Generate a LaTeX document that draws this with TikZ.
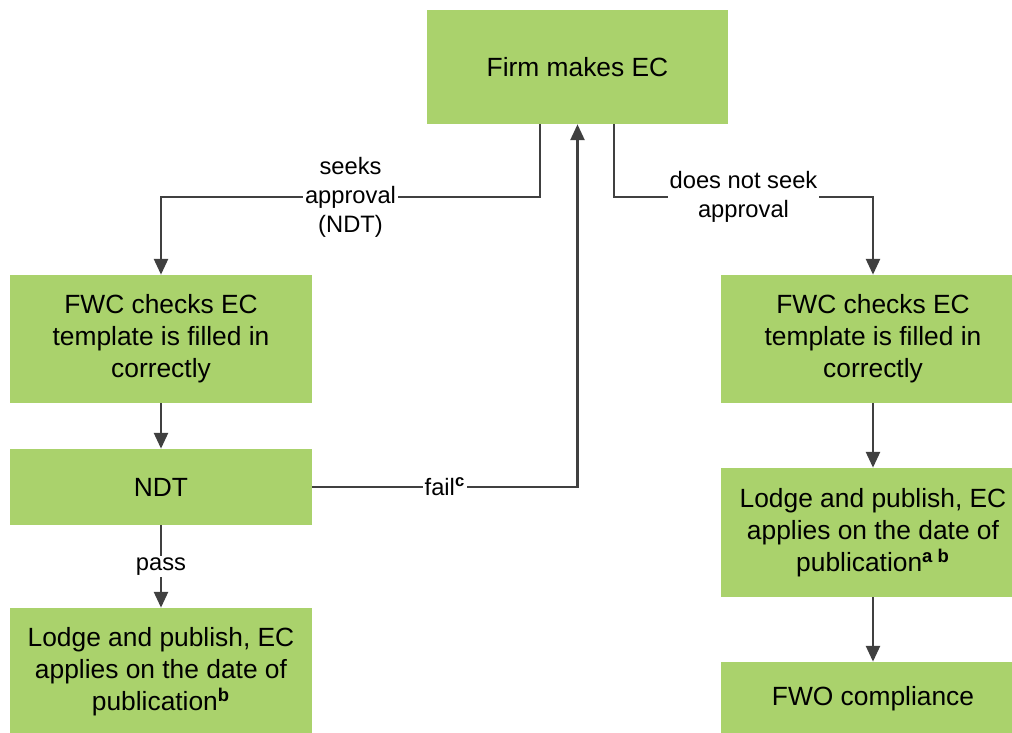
\documentclass[tikz,border=0pt]{standalone}
\usepackage{fontspec}
\setmainfont{Liberation Sans}
\usetikzlibrary{arrows.meta}
\definecolor{boxgreen}{HTML}{AAD26C}
\definecolor{linegray}{HTML}{404040}

\begin{document}
\begin{tikzpicture}[x=0.02cm,y=-0.02cm,
    stepbox/.style={fill=boxgreen, align=center, inner sep=0pt,
        font=\fontsize{15}{18.3}\selectfont},
    arr/.style={draw=linegray, line width=1.3pt,
        -{Triangle[length=9pt,width=8pt]}},
    lbl/.style={fill=white, align=center, inner sep=1pt,
        font=\fontsize{13.5}{16.5}\selectfont}]

    \useasboundingbox (0,0) rectangle (1012,733);

    % start
    \node[stepbox, minimum width=6.02cm, minimum height=2.28cm] (firm) at (577.5,67) {Firm makes EC};

    % seeks approval branch
    \node[stepbox, minimum width=6.04cm, minimum height=2.56cm] (lcheck) at (161,339) {FWC checks EC\\template is filled in\\correctly};
    \node[stepbox, minimum width=6.04cm, minimum height=1.52cm] (ndt) at (161,487) {NDT};
    \node[stepbox, minimum width=6.04cm, minimum height=2.56cm] (llodge) at (161,672) {Lodge and publish, EC\\applies on the date of\\publication\textsuperscript{\textbf{b}}};

    % does not seek approval branch
    \node[stepbox, minimum width=6.08cm, minimum height=2.56cm] (rcheck) at (873,339) {FWC checks EC\\template is filled in\\correctly};
    \node[stepbox, minimum width=6.08cm, minimum height=2.58cm] (rlodge) at (873,532.5) {Lodge and publish, EC\\applies on the date of\\publication\textsuperscript{\textbf{a b}}};
    \node[stepbox, minimum width=6.08cm, minimum height=1.46cm] (fwo) at (873,698.5) {FWO compliance};

    %%%%%%%%%%%%%%%%%%%%%%%%%%%%%%%%%%%%%%%%%%%%%%%%%%%%%%%%%

    % connectors
    \draw[arr] ([xshift=-0.75cm]firm.south) -- ++(0,73) -| node[lbl, pos=0.25] {seeks\\approval\\(NDT)} (lcheck.north);
    \draw[arr] ([xshift=0.73cm]firm.south) -- ++(0,73) -| node[lbl, pos=0.25] {does not seek\\approval} (rcheck.north);
    \draw[arr] (lcheck) -- (ndt);
    \draw[arr] (ndt) -- node[lbl] {pass} (llodge);
    \draw[arr] (ndt.east) -| node[lbl, pos=0.25] {fail\textsuperscript{\textbf{c}}} (firm.south);
    \draw[arr] (rcheck) -- (rlodge);
    \draw[arr] (rlodge) -- (fwo);

\end{tikzpicture}
\end{document}
